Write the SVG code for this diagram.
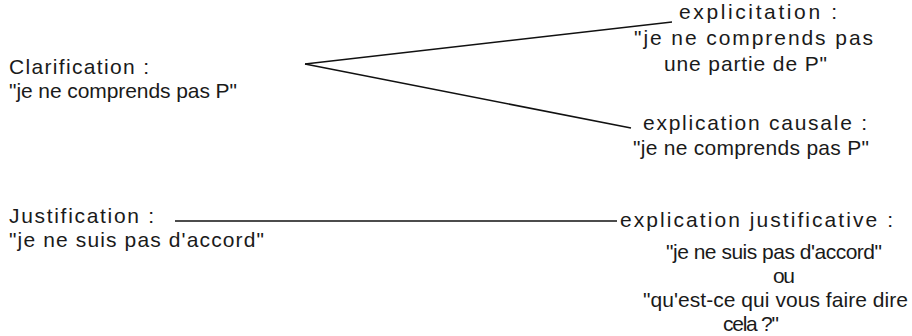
<svg xmlns="http://www.w3.org/2000/svg" width="912" height="336" viewBox="0 0 912 336">
<style>
text{font-family:"Liberation Sans",Arial,sans-serif;font-size:21px;fill:#1a1a1a}
.c{stroke:#111;stroke-width:1.6;fill:none}
</style>
<rect width="912" height="336" fill="#fff"/>
<g id="connectors">
<line class="c" x1="305" y1="64" x2="672" y2="22"/>
<line class="c" x1="305" y1="64" x2="631" y2="128"/>
<line class="c" x1="175" y1="221" x2="617" y2="221"/>
</g>
<g id="clarification">
<text x="9" y="74" textLength="140" lengthAdjust="spacing">Clarification :</text>
<text x="9" y="98" textLength="228" lengthAdjust="spacing">"je ne comprends pas P"</text>
</g>
<g id="explicitation">
<text x="679" y="19" textLength="158" lengthAdjust="spacing">explicitation :</text>
<text x="634" y="45" textLength="239" lengthAdjust="spacing">"je ne comprends pas</text>
<text x="664" y="71" textLength="163" lengthAdjust="spacing">une partie de P"</text>
</g>
<g id="explication-causale">
<text x="643" y="130" textLength="224" lengthAdjust="spacing">explication causale :</text>
<text x="633" y="155" textLength="236" lengthAdjust="spacing">"je ne comprends pas P"</text>
</g>
<g id="justification">
<text x="9" y="223" textLength="145" lengthAdjust="spacing">Justification :</text>
<text x="9" y="247" textLength="255" lengthAdjust="spacing">"je ne suis pas d'accord"</text>
</g>
<g id="explication-justificative">
<text x="620" y="227" textLength="273" lengthAdjust="spacing">explication justificative :</text>
<text x="666" y="259" textLength="216" lengthAdjust="spacing">"je ne suis pas d'accord"</text>
<text x="773" y="283" textLength="22" lengthAdjust="spacing">ou</text>
<text x="643" y="307" textLength="265" lengthAdjust="spacing">"qu'est-ce qui vous faire dire</text>
<text x="723" y="331" textLength="56" lengthAdjust="spacing">cela ?"</text>
</g>
</svg>
